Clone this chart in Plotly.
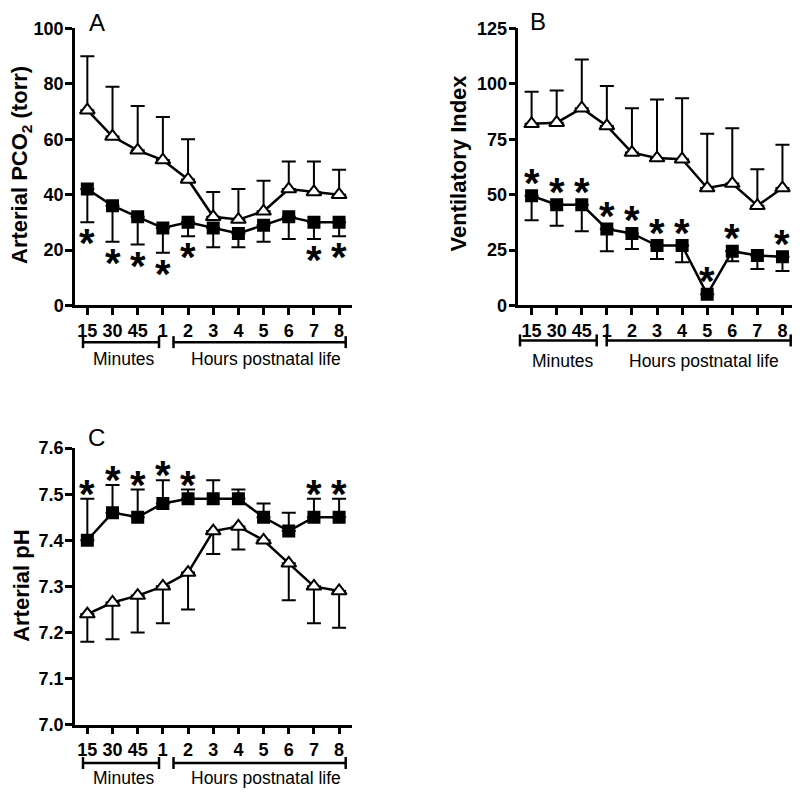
import plotly.graph_objects as go

# ---------------- data ----------------
tick_labels = ["15", "30", "45", "1", "2", "3", "4", "5", "6", "7", "8"]
idx = list(range(len(tick_labels)))

# Panel A: arterial PCO2 (torr)
a_tri_mean = [70.5, 61, 56, 52.5, 45.5, 32, 31, 34, 42, 41, 40]
a_tri_sd = [19.5, 18, 16, 15.5, 14.5, 9, 11, 11, 10, 11, 9]
a_sq_mean = [42, 36, 32, 28, 30, 28, 26, 29, 32, 30, 30]
a_sq_sd = [12, 13, 10, 9, 5, 7, 5, 6, 8, 6, 5]
a_sig = [1, 1, 1, 1, 1, 0, 0, 0, 0, 1, 1]

# Panel B: ventilatory index
b_tri_mean = [82, 82.5, 89, 81, 69, 66.5, 66, 53, 55, 45, 53]
b_tri_sd = [14.5, 14.5, 22, 18, 20, 26.5, 27.5, 24.5, 25, 16.5, 19.5]
b_sq_mean = [49.5, 45.5, 45.5, 34.5, 32.5, 27, 27, 5, 24.5, 22.5, 22]
b_sq_sd = [11, 9.5, 12, 10, 7, 6, 7.5, 0, 4.5, 6, 6.5]
b_sig = [1, 1, 1, 1, 1, 1, 1, 1, 1, 0, 1]

# Panel C: arterial pH
c_sq_mean = [7.40, 7.46, 7.45, 7.48, 7.49, 7.49, 7.49, 7.45, 7.42, 7.45, 7.45]
c_sq_sd = [0.09, 0.06, 0.06, 0.05, 0.02, 0.04, 0.02, 0.03, 0.04, 0.04, 0.04]
c_tri_mean = [7.24, 7.265, 7.28, 7.30, 7.33, 7.42, 7.43, 7.40, 7.35, 7.30, 7.29]
c_tri_sd = [0.06, 0.08, 0.08, 0.08, 0.08, 0.05, 0.05, 0.0, 0.08, 0.08, 0.08]
c_sig = [1, 1, 1, 1, 1, 0, 0, 0, 0, 1, 1]

# ---------------- layout helpers ----------------
W, H = 800, 793
FONT = "Liberation Sans, Arial, sans-serif"
OFFX = 8        # page offset, horizontal
OFFY = 17.5     # page offset, vertical
SCY = 0.975     # effective vertical scale of the paper


def fx(px):
    return (px - OFFX) / W


def fy(py):
    return 1 - ((py - OFFY) / SCY) / H


fig = go.Figure()


def series(xa, ya, mean, sd, up, symbol, fill, size):
    fig.add_trace(go.Scatter(
        x=idx, y=mean, xaxis=xa, yaxis=ya, mode="lines+markers",
        line=dict(color="black", width=2.5),
        marker=dict(symbol=symbol, size=size, color=fill,
                    line=dict(color="black", width=2)),
        error_y=dict(type="data", symmetric=False,
                     array=sd if up else [0] * len(sd),
                     arrayminus=[0] * len(sd) if up else sd,
                     color="black", thickness=2, width=7),
        showlegend=False, hoverinfo="skip", cliponaxis=False,
    ))


# Panel A
series("x", "y", a_sq_mean, a_sq_sd, False, "square", "black", 11)
series("x", "y", a_tri_mean, a_tri_sd, True, "triangle-up", "white", 13)
# Panel B
series("x2", "y2", b_sq_mean, b_sq_sd, False, "square", "black", 11)
series("x2", "y2", b_tri_mean, b_tri_sd, True, "triangle-up", "white", 13)
# Panel C
series("x3", "y3", c_tri_mean, c_tri_sd, False, "triangle-up", "white", 13)
series("x3", "y3", c_sq_mean, c_sq_sd, True, "square", "black", 11)

annotations = []
STAR = dict(text="<b>*</b>", showarrow=False, font=dict(family=FONT, size=40, color="black"),
            xanchor="center", yanchor="middle")
for i in idx:
    if a_sig[i]:
        annotations.append(dict(STAR, x=i, y=a_sq_mean[i] - a_sq_sd[i], xref="x", yref="y", yshift=-21))
    if b_sig[i]:
        annotations.append(dict(STAR, x=i, y=b_sq_mean[i], xref="x2", yref="y2", yshift=13))
    if c_sig[i]:
        annotations.append(dict(STAR, x=i, y=c_sq_mean[i] + c_sq_sd[i], xref="x3", yref="y3", yshift=5))

axis_common = dict(showline=True, linecolor="black", linewidth=2.5, ticks="outside",
                   ticklen=7, tickwidth=2.5, tickcolor="black", showgrid=False,
                   zeroline=False, tickfont=dict(family=FONT, size=18, color="black"),
                   fixedrange=True)


def xaxis(domain, anchor, left):
    return dict(axis_common, domain=domain, anchor=anchor, range=[left, 10.5],
                tickmode="array", tickvals=idx,
                ticktext=["<b>%s</b>" % t for t in tick_labels])


def yaxis(domain, anchor, rng, vals, fmt):
    return dict(axis_common, domain=domain, anchor=anchor, range=rng,
                tickmode="array", tickvals=vals,
                ticktext=["<b>%s</b>" % (fmt % v) for v in vals],
                ticklabelstandoff=-2)


dom_x_left = [fx(75), fx(351.7)]
dom_x_right = [fx(518.3), fx(795)]
dom_y_top = [fy(305), fy(28)]
dom_y_bot = [fy(724.3), fy(447.7)]

# brackets under x axes
shapes = []


def bracket(x0, x1, y):
    shapes.append(dict(type="line", xref="paper", yref="paper", x0=fx(x0), x1=fx(x1),
                       y0=fy(y), y1=fy(y), line=dict(color="black", width=2.5)))
    for xx in (x0, x1):
        shapes.append(dict(type="line", xref="paper", yref="paper", x0=fx(xx), x1=fx(xx),
                           y0=fy(y - 6), y1=fy(y + 6), line=dict(color="black", width=2.5)))


bracket(83, 159, 341.7)
bracket(173.5, 345.7, 341.7)
bracket(520, 596.7, 340)
bracket(606.7, 790.7, 340)
bracket(83, 159, 762.7)
bracket(173.5, 345.7, 762.7)


def label(text, x, y, size=17.5, bold=False, angle=0):
    annotations.append(dict(text=("<b>%s</b>" % text) if bold else text, x=fx(x), y=fy(y),
                            xref="paper", yref="paper", showarrow=False, textangle=angle,
                            xanchor="center", yanchor="middle",
                            font=dict(family=FONT, size=size, color="black")))


label("Minutes", 123.8, 358.3)
label("Hours postnatal life", 266.3, 358.3)
label("Minutes", 563, 360.7)
label("Hours postnatal life", 703.8, 360.7)
label("Minutes", 123.6, 778)
label("Hours postnatal life", 266, 778)

label("Arterial PCO<sub>2</sub> (torr)", 21.5, 165, size=22, bold=True, angle=-90)
label("Ventilatory Index", 458, 163, size=22, bold=True, angle=-90)
label("Arterial pH", 21.5, 586, size=22, bold=True, angle=-90)

label("A", 96.7, 22.5, size=24)
label("B", 538.3, 21.5, size=24)
label("C", 96.7, 436.7, size=24)

fig.update_layout(
    width=W, height=H, margin=dict(l=0, r=0, t=0, b=0),
    paper_bgcolor="white", plot_bgcolor="white",
    xaxis=xaxis(dom_x_left, "y", -0.49),
    yaxis=yaxis(dom_y_top, "x", [0, 100], [0, 20, 40, 60, 80, 100], "%d"),
    xaxis2=xaxis(dom_x_right, "y2", -0.53),
    yaxis2=yaxis(dom_y_top, "x2", [0, 125], [0, 25, 50, 75, 100, 125], "%d"),
    xaxis3=xaxis(dom_x_left, "y3", -0.49),
    yaxis3=yaxis(dom_y_bot, "x3", [7.0, 7.6], [7.0, 7.1, 7.2, 7.3, 7.4, 7.5, 7.6], "%.1f"),
    annotations=annotations, shapes=shapes,
    font=dict(family=FONT, color="black"),
)

fig.write_html("out.html")
